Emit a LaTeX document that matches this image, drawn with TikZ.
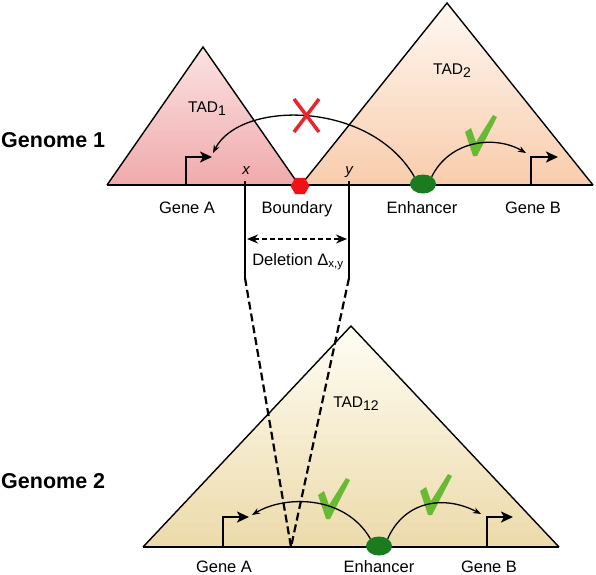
\documentclass[tikz,border=0pt]{standalone}
\usepackage{fontspec}
\setmainfont{Liberation Sans}
\usetikzlibrary{shapes.geometric,arrows.meta}
\definecolor{tadonetop}{RGB}{251,226,226}
\definecolor{tadonebot}{RGB}{240,170,172}
\definecolor{tadtwotop}{RGB}{255,248,242}
\definecolor{tadtwobot}{RGB}{248,204,172}
\definecolor{tadjointop}{RGB}{255,253,244}
\definecolor{tadjoinbot}{RGB}{236,218,170}
\definecolor{enhgreen}{RGB}{26,124,30}
\definecolor{checkgreen}{RGB}{104,186,52}
\definecolor{bndred}{RGB}{238,18,22}
\definecolor{crossred}{RGB}{232,36,44}
\newcommand{\okmark}[1]{\fill[checkgreen,shift={#1}] (-16,-4)--(-10,-8)--(-5,6)--(12,-21)--(16,-19)--(-4,20)--(-8,20)--cycle;}
\newcommand{\tadsub}[1]{\raisebox{-3.5pt}{\fontsize{14}{16}\selectfont #1}}

\begin{document}
\begin{tikzpicture}[x=1pt,y=-1pt,
	lab/.style={font=\fontsize{16.5}{19}\selectfont, inner sep=0pt, anchor=base},
	genome/.style={font=\fontsize{21.5}{25}\selectfont\bfseries, inner sep=0pt, anchor=base west},
	tadlab/.style={font=\fontsize{15.5}{18}\selectfont, inner sep=0pt, anchor=base},
	coordlab/.style={font=\fontsize{15}{18}\selectfont\itshape, inner sep=0pt, anchor=base},
	tadline/.style={draw=black, line width=1.4pt, line join=miter},
	promo/.style={line width=2.2pt, line join=miter, -{Stealth[length=12pt,width=11pt,inset=3pt]}},
	contact/.style={line width=1.3pt, -{Stealth[length=8pt,width=6pt]}},
	enh/.style={ellipse, fill=enhgreen, minimum width=26pt, minimum height=19pt, inner sep=0pt},
	bnd/.style={regular polygon, regular polygon sides=6, fill=bndred, minimum size=19pt, inner sep=0pt},
	cut/.style={line width=2.2pt},
	cutdash/.style={line width=2.2pt, dash pattern=on 8pt off 4pt}]
	\useasboundingbox (0,0) rectangle (596,574);
	%%%%%%%%%%%%%%%% Genome 1
	\fill[top color=tadonetop, bottom color=tadonebot] (107,185)--(203,47)--(299,185)--cycle;
	\fill[top color=tadtwotop, bottom color=tadtwobot] (301,185)--(447,3)--(593,185)--cycle;
	\draw[tadline] (107,185)--(203,47)--(299,185);
	\draw[tadline] (301,185)--(447,3)--(593,185);
	\draw[line width=1.6pt] (107,185)--(593,185);
	\node[genome] (g1) at (1,147) {Genome 1};
	\node[tadlab] (tad1) at (207,112) {TAD\tadsub{1}};
	\node[tadlab] (tad2) at (452,74) {TAD\tadsub{2}};
	\coordinate (tssA1) at (212,157);
	\coordinate (tssB1) at (558,157);
	\draw[promo] (186,185) |- (tssA1);
	\draw[promo] (531,185) |- (tssB1);
	\node[bnd] (bnd1) at (300,186) {};
	\node[enh] (enh1) at (423,184) {};
	\coordinate (toA1) at (213,153);
	\coordinate (toB1) at (526,153);
	\draw[contact] (enh1.140) .. controls (370,100) and (240,100) .. (toA1);
	\okmark{(481,136)}
	\draw[contact] (enh1.40) .. controls (450,140) and (495,135) .. (toB1);
	\draw[crossred, line width=3.5pt] (294,99)--(319,132) (319,99)--(294,132);
	\node[lab] (geneA1) at (187,213) {Gene A};
	\node[lab] (bndlab) at (297,213) {Boundary};
	\node[lab] (enhlab1) at (422,213) {Enhancer};
	\node[lab] (geneB1) at (533,213) {Gene B};
	%%%%%%%%%%%%%%%% deletion
	\coordinate (xtop) at (245,181);
	\coordinate (xbend) at (245,278);
	\coordinate (ytop) at (349,181);
	\coordinate (ybend) at (349,278);
	\coordinate (vtip) at (291,547);
	\node[coordlab] (xlab) at (246,174) {x};
	\node[coordlab] (ylab) at (349,174) {y};
	\draw[cut] (xtop)--(xbend);
	\draw[cut] (ytop)--(ybend);
	\coordinate (dl) at (247,239);
	\coordinate (dr) at (347,239);
	\draw[line width=1.7pt, dash pattern=on 5pt off 3pt, {Stealth[length=11pt,width=9pt]}-{Stealth[length=11pt,width=9pt]}] (dl)--(dr);
	\node[lab] (del) at (298,265) {Deletion Δ\textsubscript{x,y}};
	%%%%%%%%%%%%%%%% Genome 2
	\fill[top color=tadjointop, bottom color=tadjoinbot] (143,547)--(351,326)--(559,547)--cycle;
	\draw[tadline] (143,547)--(351,326)--(559,547);
	\draw[line width=1.6pt] (143,547)--(559,547);
	\draw[cutdash] (xbend)--(vtip)--(ybend);
	\node[genome] (g2) at (1,488) {Genome 2};
	\node[tadlab] (tad12) at (356,407) {TAD\tadsub{12}};
	\coordinate (tssA2) at (249,517);
	\coordinate (tssB2) at (513,517);
	\draw[promo] (223,547) |- (tssA2);
	\draw[promo] (487,547) |- (tssB2);
	\node[enh] (enh2) at (379,546) {};
	\coordinate (toA2) at (252,515);
	\coordinate (toB2) at (481,514);
	\okmark{(334,499)}
	\okmark{(436,495)}
	\draw[contact] (enh2.140) .. controls (345,495) and (285,495) .. (toA2);
	\draw[contact] (enh2.40) .. controls (405,500) and (445,495) .. (toB2);
	\node[lab] (geneA2) at (224,572) {Gene A};
	\node[lab] (enhlab2) at (379,572) {Enhancer};
	\node[lab] (geneB2) at (489,572) {Gene B};
\end{tikzpicture}
\end{document}
